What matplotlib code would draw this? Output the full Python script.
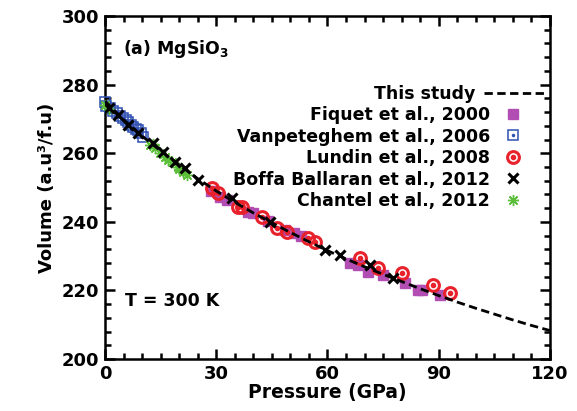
import matplotlib
matplotlib.use("Agg")
import matplotlib.pyplot as plt
from matplotlib.ticker import MultipleLocator
from matplotlib.legend_handler import HandlerTuple

plt.rcParams['font.family'] = ['DejaVu Sans']
plt.rcParams['font.weight'] = 'bold'
plt.rcParams['mathtext.fontset'] = 'custom'
plt.rcParams['mathtext.rm'] = 'DejaVu Sans:bold'
plt.rcParams['mathtext.bf'] = 'DejaVu Sans:bold'

# "This study" EOS curve
study_p = [0, 5, 10, 15, 20, 25, 30, 35, 40, 45, 50, 55, 60, 65, 70, 75, 80, 85, 90, 95, 100, 105, 110, 115, 120]
study_v = [275.2, 269.8, 265.0, 260.7, 256.6, 252.6, 249.0, 245.7, 242.6, 239.7, 236.9, 234.2, 231.6, 229.2,
           226.9, 224.7, 222.6, 220.5, 218.5, 216.6, 214.8, 213.1, 211.4, 209.8, 208.3]

# Fiquet et al., 2000
fiquet_p = [28.5, 31.0, 33.0, 38.6, 39.9, 44.0, 48.5, 51.0, 53.0, 66.1, 68.2, 70.9, 75.0, 80.9, 84.4, 85.5, 90.3]
fiquet_v = [249.0, 247.2, 246.3, 242.9, 242.6, 240.3, 237.6, 236.6, 235.8, 228.0, 227.4, 225.4, 224.5, 222.2, 220.1, 220.1, 218.7]

# Vanpeteghem et al., 2006
vanp_p = [0.0, 0.4, 1.3, 2.2, 3.2, 4.0, 4.9, 5.6, 6.2, 7.0, 7.6, 8.3, 8.9, 9.6, 10.2]
vanp_v = [274.8, 273.8, 273.2, 272.3, 271.7, 270.9, 270.3, 269.6, 269.1, 268.3, 267.6, 267.2, 266.8, 265.8, 264.7]

# Lundin et al., 2008
lundin_p = [28.9, 30.5, 35.9, 36.9, 42.3, 46.4, 49.1, 54.7, 56.6, 68.8, 73.6, 80.1, 88.5, 93.0]
lundin_v = [249.9, 248.4, 244.3, 244.3, 241.4, 238.2, 237.0, 235.3, 234.1, 229.4, 226.5, 225.1, 221.6, 219.2]

# Boffa Ballaran et al., 2012
boffa_p = [1.0, 3.5, 6.2, 9.0, 12.9, 15.6, 18.9, 21.6, 25.1, 34.3, 44.5, 59.3, 63.5, 71.5, 77.7]
boffa_v = [273.2, 271.1, 268.3, 266.0, 263.0, 260.3, 257.4, 255.7, 252.2, 246.9, 239.9, 231.8, 230.2, 227.4, 223.6]

# Chantel et al., 2012
chantel_p = [0.0, 1.0, 12.1, 13.0, 13.5, 14.8, 16.2, 17.0, 18.1, 19.7, 20.0, 21.0, 22.1]
chantel_v = [274.2, 273.0, 262.4, 262.8, 261.5, 260.1, 258.9, 258.0, 257.4, 256.0, 255.5, 254.5, 253.6]

PURPLE = '#b24db4'
BLUE = '#2f4fb3'
RED = '#e8212b'
GREEN = '#5bbf3a'

fig = plt.figure(figsize=(5.77, 4.11), dpi=100)
ax = fig.add_axes([0.182, 0.1265, 0.771, 0.8345])

line, = ax.plot(study_p, study_v, color='black', lw=2.0, dashes=(3.0, 1.6), zorder=5)
h_fiq, = ax.plot(fiquet_p, fiquet_v, ls='none', marker='s', ms=7.5, color=PURPLE, mec=PURPLE, zorder=2, clip_on=False)
h_van1, = ax.plot(vanp_p, vanp_v, ls='none', marker='s', ms=7, mfc='none', mec=BLUE, mew=1.1, zorder=3, clip_on=False)
h_van2, = ax.plot(vanp_p, vanp_v, ls='none', marker='o', ms=1.5, color=BLUE, zorder=3, clip_on=False)
h_lun1, = ax.plot(lundin_p, lundin_v, ls='none', marker='o', ms=8.5, mfc='none', mec=RED, mew=2.2, zorder=4)
h_lun2, = ax.plot(lundin_p, lundin_v, ls='none', marker='o', ms=3.0, color=RED, zorder=4)
h_bof, = ax.plot(boffa_p, boffa_v, ls='none', marker='x', ms=6.5, mew=2.2, color='black', zorder=6)
h_cha, = ax.plot(chantel_p, chantel_v, ls='none', marker=(8, 2, 0), ms=8, mew=1.0, color=GREEN, zorder=3, clip_on=False)

ax.set_xlim(0, 120)
ax.set_ylim(200, 300)
ax.xaxis.set_major_locator(MultipleLocator(30))
ax.xaxis.set_minor_locator(MultipleLocator(5))
ax.yaxis.set_major_locator(MultipleLocator(20))
ax.yaxis.set_minor_locator(MultipleLocator(4))
ax.tick_params(which='both', direction='in', top=True, right=True, width=1.8, labelsize=13)
ax.tick_params(which='major', length=7, pad=4)
ax.tick_params(which='minor', length=4)
for s in ax.spines.values():
    s.set_linewidth(1.8)

ax.set_xlabel('Pressure (GPa)', fontsize=13.5, fontweight='bold', labelpad=0)
ax.set_ylabel('Volume (a.u\u00b3/f.u)', fontsize=13, fontweight='bold', labelpad=4)

ax.text(0.04, 0.905, r'(a) MgSiO$_{3}$', transform=ax.transAxes, fontsize=12.5, fontweight='bold', va='center')
ax.text(0.045, 0.17, 'T = 300 K', transform=ax.transAxes, fontsize=12.5, fontweight='bold', va='center')

leg1 = ax.legend([line], ['This study'], loc='upper right', bbox_to_anchor=(1.0, 0.81),
                 markerfirst=False, frameon=False, handlelength=3.6,
                 handletextpad=0.5, borderaxespad=0.0, borderpad=0.2, prop={'weight': 'bold', 'size': 12.5})
ax.add_artist(leg1)
ax.legend([h_fiq, (h_van1, h_van2), (h_lun1, h_lun2), h_bof, h_cha],
          ['Fiquet et al., 2000', 'Vanpeteghem et al., 2006', 'Lundin et al., 2008',
           'Boffa Ballaran et al., 2012', 'Chantel et al., 2012'],
          handler_map={tuple: HandlerTuple(ndivide=1, pad=0)},
          loc='upper right', bbox_to_anchor=(0.944, 0.7475), markerfirst=False, frameon=False,
          handlelength=1.0, handletextpad=0.8, labelspacing=0.2, borderaxespad=0.0, borderpad=0.2,
          prop={'weight': 'bold', 'size': 12.5})

fig.savefig('out.png', dpi=100)
